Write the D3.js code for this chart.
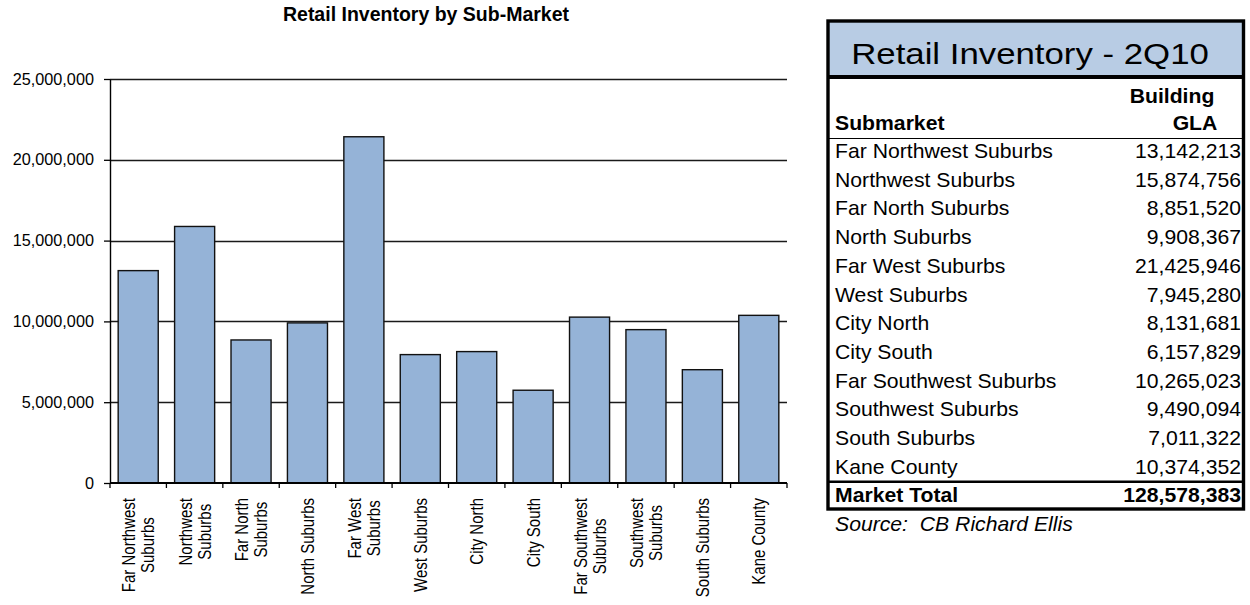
<!DOCTYPE html>
<html>
<head>
<meta charset="utf-8">
<script src="https://cdn.jsdelivr.net/npm/d3@7"></script>
<style>
  html, body { margin: 0; padding: 0; background: #fff; }
  svg { display: block; font-family: "Liberation Sans", Arial, sans-serif; }
</style>
</head>
<body>
<script>
// Sub-markets along the chart's category axis
const categories = [
  "Far Northwest Suburbs", "Northwest Suburbs", "Far North Suburbs", "North Suburbs",
  "Far West Suburbs", "West Suburbs", "City North", "City South",
  "Far Southwest Suburbs", "Southwest Suburbs", "South Suburbs", "Kane County"
];
// How each category label wraps under the axis
const categoryLines = [
  ["Far Northwest", "Suburbs"], ["Northwest", "Suburbs"], ["Far North", "Suburbs"], ["North Suburbs"],
  ["Far West", "Suburbs"], ["West Suburbs"], ["City North"], ["City South"],
  ["Far Southwest", "Suburbs"], ["Southwest", "Suburbs"], ["South Suburbs"], ["Kane County"]
];
// Bar heights (square feet of retail inventory)
const inventory = [
  13142213, 15874756, 8851520, 9908367,
  21425946, 7945280, 8131681, 5740000,
  10265023, 9490094, 7011322, 10374352
];
const yTicks = [0, 5000000, 10000000, 15000000, 20000000, 25000000];

// Side table: Retail Inventory - 2Q10
const tableSubmarkets = [
  "Far Northwest Suburbs", "Northwest Suburbs", "Far North Suburbs", "North Suburbs",
  "Far West Suburbs", "West Suburbs", "City North", "City South",
  "Far Southwest Suburbs", "Southwest Suburbs", "South Suburbs", "Kane County"
];
const tableGLA = [
  13142213, 15874756, 8851520, 9908367,
  21425946, 7945280, 8131681, 6157829,
  10265023, 9490094, 7011322, 10374352
];
const marketTotal = 128578383;

const W = 1250, H = 605;
const fmt = d3.format(",");
const svg = d3.select("body").append("svg").attr("width", W).attr("height", H);

// ---------- bar chart ----------
const plot = { left: 110, right: 787, top: 79, bottom: 483 };
const x = d3.scaleBand().domain(categories)
  .range([plot.left, plot.right]).paddingInner(0.29).paddingOuter(0.145);
const y = d3.scaleLinear().domain([0, 25000000]).range([plot.bottom, plot.top]);

svg.append("text")
  .attr("x", 426).attr("y", 21)
  .attr("text-anchor", "middle")
  .attr("font-weight", "bold").attr("font-size", 19.5)
  .attr("fill", "#000")
  .text("Retail Inventory by Sub-Market");

// horizontal gridlines
svg.append("g").selectAll("line")
  .data(yTicks.filter(d => d > 0)).join("line")
  .attr("x1", plot.left).attr("x2", plot.right)
  .attr("y1", d => Math.round(y(d)) + 0.5).attr("y2", d => Math.round(y(d)) + 0.5)
  .attr("stroke", "#1a1a1a").attr("stroke-width", 1.3);

// bars
svg.append("g").selectAll("rect")
  .data(categories.map((c, i) => ({ c, v: inventory[i] }))).join("rect")
  .attr("x", d => x(d.c)).attr("width", x.bandwidth())
  .attr("y", d => y(d.v)).attr("height", d => y(0) - y(d.v))
  .attr("fill", "#95B3D7").attr("stroke", "#111").attr("stroke-width", 1.4);

// value axis
const yAxis = svg.append("g")
  .attr("transform", `translate(${plot.left},0)`)
  .call(d3.axisLeft(y).tickValues(yTicks).tickFormat(fmt).tickSize(6).tickSizeOuter(0).tickPadding(10));
yAxis.select(".domain").attr("stroke", "#000").attr("stroke-width", 1.4);
yAxis.selectAll(".tick line").attr("stroke", "#000").attr("stroke-width", 1.3);
yAxis.selectAll(".tick text")
  .attr("font-size", 15.8).attr("font-family", "Liberation Sans, Arial, sans-serif").attr("fill", "#000")
  .each(function () {
    const t = d3.select(this);
    const tx = +t.attr("x");
    t.attr("x", 0).attr("transform", `translate(${tx},0) scale(1.03,1)`);
  });

// category axis: baseline with ticks on the band boundaries
const bounds = d3.range(categories.length + 1).map(i => x.range()[0] + i * x.step());
svg.append("line")
  .attr("x1", plot.left).attr("x2", plot.right)
  .attr("y1", y(0)).attr("y2", y(0))
  .attr("stroke", "#000").attr("stroke-width", 1.8);
svg.append("g").selectAll("line").data(bounds).join("line")
  .attr("x1", d => d).attr("x2", d => d)
  .attr("y1", y(0)).attr("y2", y(0) + 5)
  .attr("stroke", "#000").attr("stroke-width", 1.3);

// rotated category labels, lines centred on each other
const labelTop = 498, lineH = 19;
categories.forEach((c, i) => {
  const lines = categoryLines[i];
  const g = svg.append("g")
    .attr("transform", `translate(${x(c) + x.bandwidth() / 2},${labelTop}) rotate(-90)`);
  const texts = lines.map((ln, j) => g.append("text")
    .attr("text-anchor", "middle")
    .attr("font-size", 15).attr("fill", "#000")
    .text(ln));
  const maxLen = d3.max(texts, t => t.node().getComputedTextLength());
  texts.forEach((t, j) => {
    const ly = (j - (lines.length - 1) / 2) * lineH;
    t.attr("transform", `translate(${-maxLen / 2},${ly}) scale(1,1.25)`).attr("dy", "0.35em");
  });
});

// ---------- side table ----------
const tb = { left: 828, right: 1243.5, top: 21, headBottom: 77, bottom: 509 };
const rowX = 835, valX = 1241;
const rowBase0 = 158, rowStep = 28.7;
const rowFont = 20, rowStretch = 1.06;

svg.append("rect")
  .attr("x", tb.left).attr("y", tb.top)
  .attr("width", tb.right - tb.left).attr("height", tb.headBottom - tb.top)
  .attr("fill", "#B8CCE4");

function stretched(txt, px, py, sx, anchor, size, weight, style) {
  return svg.append("text")
    .attr("transform", `translate(${px},${py}) scale(${sx},1)`)
    .attr("text-anchor", anchor)
    .attr("font-size", size)
    .attr("font-weight", weight || "normal")
    .attr("font-style", style || "normal")
    .attr("fill", "#000")
    .text(txt);
}

stretched("Retail Inventory - 2Q10", 1030, 64, 1.2, "middle", 29);
stretched("Building", 1172, 103, rowStretch, "middle", rowFont, "bold");
stretched("GLA", 1195, 129.5, rowStretch, "middle", rowFont, "bold");
stretched("Submarket", rowX, 129.5, rowStretch, "start", rowFont, "bold");

tableSubmarkets.forEach((name, i) => {
  const by = rowBase0 + i * rowStep;
  stretched(name, rowX, by, rowStretch, "start", rowFont);
  stretched(fmt(tableGLA[i]), valX, by, rowStretch, "end", rowFont);
});
const totalBase = rowBase0 + tableSubmarkets.length * rowStep;
stretched("Market Total", rowX, totalBase, rowStretch, "start", rowFont, "bold");
stretched(fmt(marketTotal), valX, totalBase, rowStretch, "end", rowFont, "bold");
stretched("Source:  CB Richard Ellis", rowX, totalBase + rowStep, rowStretch, "start", rowFont, "normal", "italic")
  .attr("xml:space", "preserve").style("white-space", "pre");

// table rules
svg.append("line").attr("x1", tb.left).attr("x2", tb.right).attr("y1", 138.5).attr("y2", 138.5)
  .attr("stroke", "#000").attr("stroke-width", 1.2);
svg.append("line").attr("x1", tb.left).attr("x2", tb.right).attr("y1", tb.headBottom).attr("y2", tb.headBottom)
  .attr("stroke", "#000").attr("stroke-width", 4);
svg.append("line").attr("x1", tb.left).attr("x2", tb.right).attr("y1", 481.8).attr("y2", 481.8)
  .attr("stroke", "#000").attr("stroke-width", 2.6);
svg.append("rect")
  .attr("x", tb.left).attr("y", tb.top)
  .attr("width", tb.right - tb.left).attr("height", tb.bottom - tb.top)
  .attr("fill", "none").attr("stroke", "#000").attr("stroke-width", 3.4);
</script>
</body>
</html>
